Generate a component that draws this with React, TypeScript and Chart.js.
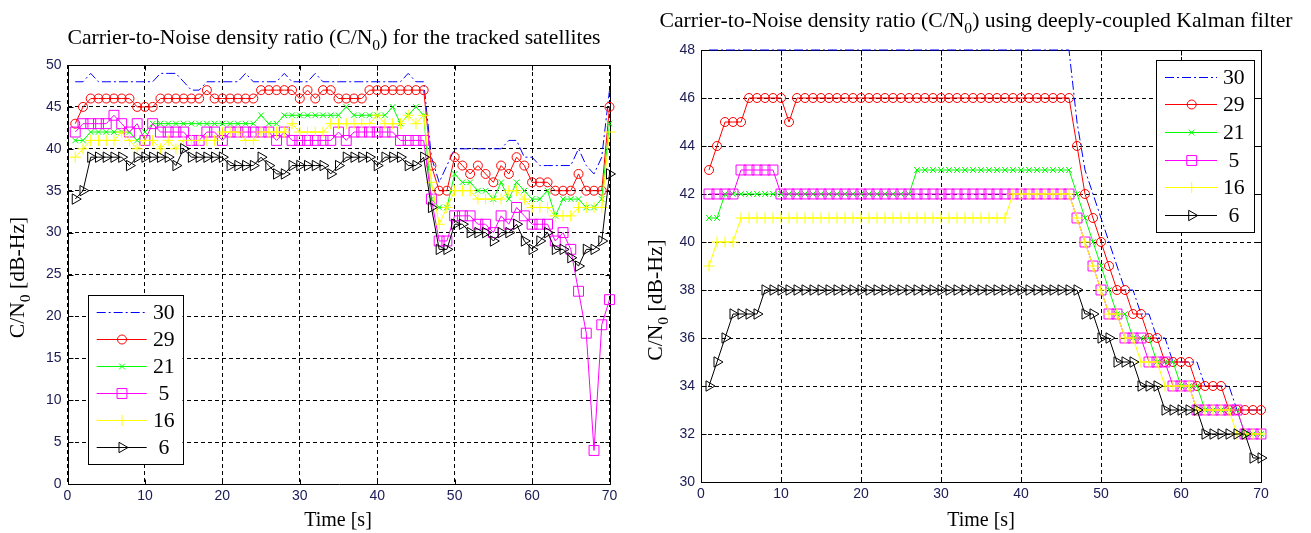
import React, { useEffect, useRef } from 'react';
import { Chart, registerables } from 'chart.js';

Chart.register(...registerables);

// ---------------- data ----------------
const time = [1, 2, 3, 4, 5, 6, 7, 8, 9, 10, 11, 12, 13, 14, 15, 16, 17, 18, 19, 20,
  21, 22, 23, 24, 25, 26, 27, 28, 29, 30, 31, 32, 33, 34, 35, 36, 37, 38, 39, 40,
  41, 42, 43, 44, 45, 46, 47, 48, 49, 50, 51, 52, 53, 54, 55, 56, 57, 58, 59, 60,
  61, 62, 63, 64, 65, 66, 67, 68, 69, 70];

const satelliteLabels = ['30', '29', '21', ' 5', '16', ' 6'];

// left panel: tracked satellites
const leftSat30 = [48, 48, 49, 48, 48, 48, 48, 48, 48, 48, 48, 49, 49, 49, 48, 47, 47, 48, 48, 48,
  48, 48, 49, 48, 48, 48, 48, 49, 48, 48, 48, 49, 48, 48, 48, 48, 48, 48, 48, 48,
  48, 48, 48, 49, 48, 48, 39, 36, 38, 40, 40, 40, 40, 40, 40, 40, 41, 41, 39, 39,
  38, 38, 38, 38, 38, 40, 38, 37, 39, 47];
const leftSat29 = [43, 45, 46, 46, 46, 46, 46, 46, 45, 45, 45, 46, 46, 46, 46, 46, 46, 47, 46, 46,
  46, 46, 46, 46, 47, 47, 47, 47, 47, 46, 47, 46, 47, 47, 46, 46, 46, 46, 47, 47,
  47, 47, 47, 47, 47, 47, 38, 35, 35, 39, 38, 37, 38, 37, 36, 38, 37, 39, 38, 36,
  36, 36, 35, 35, 35, 37, 35, 35, 35, 45];
const leftSat21 = [41, 41, 42, 42, 42, 42, 42, 42, 41, 42, 43, 43, 43, 43, 43, 43, 43, 43, 43, 43,
  43, 43, 43, 43, 44, 43, 43, 44, 44, 44, 44, 44, 44, 44, 44, 45, 44, 44, 44, 44,
  44, 45, 43, 44, 45, 44, 34, 33, 33, 37, 36, 36, 35, 35, 34, 36, 34, 36, 35, 34,
  34, 35, 32, 34, 34, 34, 33, 33, 34, 43];
const leftSat5 = [42, 43, 43, 43, 43, 44, 43, 42, 43, 41, 43, 42, 42, 42, 42, 41, 41, 42, 42, 41,
  42, 42, 42, 42, 42, 42, 41, 42, 41, 41, 41, 41, 41, 41, 42, 41, 42, 42, 42, 42,
  42, 42, 41, 41, 41, 41, 34, 29, 29, 32, 32, 32, 31, 31, 30, 32, 31, 33, 32, 31,
  31, 31, 29, 30, 28, 23, 18, 4, 19, 22];
const leftSat16 = [39, 40, 41, 41, 41, 41, 42, 41, 40, 41, 41, 40, 41, 40, 41, 41, 41, 41, 41, 42,
  42, 42, 41, 41, 42, 42, 42, 42, 43, 42, 42, 42, 42, 43, 43, 43, 43, 43, 43, 44,
  43, 43, 43, 44, 43, 44, 36, 31, 33, 35, 35, 35, 34, 34, 34, 34, 35, 35, 34, 33,
  33, 33, 32, 32, 32, 33, 33, 33, 33, 42];
const leftSat6 = [34, 35, 39, 39, 39, 39, 39, 38, 39, 39, 39, 39, 39, 38, 40, 39, 39, 39, 39, 39,
  38, 38, 38, 38, 39, 38, 37, 37, 38, 38, 38, 38, 38, 37, 38, 39, 39, 39, 39, 38,
  39, 39, 39, 38, 38, 39, 33, 28, 28, 31, 31, 30, 30, 30, 29, 30, 30, 31, 29, 28,
  29, 30, 28, 28, 27, 26, 28, 28, 29, 37];

// right panel: deeply-coupled Kalman filter
const rightSat30 = [48, 48, 48, 48, 48, 48, 48, 48, 48, 48, 48, 48, 48, 48, 48, 48, 48, 48, 48, 48,
  48, 48, 48, 48, 48, 48, 48, 48, 48, 48, 48, 48, 48, 48, 48, 48, 48, 48, 48, 48,
  48, 48, 48, 48, 48, 48, 45, 43, 42, 41, 40, 39, 38, 38, 37, 37, 36, 36, 35, 35,
  35, 35, 34, 34, 34, 34, 33, 33, 33, 33];
const rightSat29 = [43, 44, 45, 45, 45, 46, 46, 46, 46, 46, 45, 46, 46, 46, 46, 46, 46, 46, 46, 46,
  46, 46, 46, 46, 46, 46, 46, 46, 46, 46, 46, 46, 46, 46, 46, 46, 46, 46, 46, 46,
  46, 46, 46, 46, 46, 46, 44, 42, 41, 40, 39, 38, 38, 37, 37, 36, 36, 35, 35, 35,
  35, 34, 34, 34, 34, 33, 33, 33, 33, 33];
const rightSat21 = [41, 41, 42, 42, 42, 42, 42, 42, 42, 42, 42, 42, 42, 42, 42, 42, 42, 42, 42, 42,
  42, 42, 42, 42, 42, 42, 43, 43, 43, 43, 43, 43, 43, 43, 43, 43, 43, 43, 43, 43,
  43, 43, 43, 43, 43, 43, 42, 41, 40, 39, 38, 37, 37, 36, 36, 36, 35, 35, 35, 34,
  34, 34, 33, 33, 33, 33, 33, 32, 32, 32];
const rightSat5 = [42, 42, 42, 42, 43, 43, 43, 43, 43, 42, 42, 42, 42, 42, 42, 42, 42, 42, 42, 42,
  42, 42, 42, 42, 42, 42, 42, 42, 42, 42, 42, 42, 42, 42, 42, 42, 42, 42, 42, 42,
  42, 42, 42, 42, 42, 42, 41, 40, 39, 38, 37, 37, 36, 36, 36, 35, 35, 35, 34, 34,
  34, 33, 33, 33, 33, 33, 33, 32, 32, 32];
const rightSat16 = [39, 40, 40, 40, 41, 41, 41, 41, 41, 41, 41, 41, 41, 41, 41, 41, 41, 41, 41, 41,
  41, 41, 41, 41, 41, 41, 41, 41, 41, 41, 41, 41, 41, 41, 41, 41, 41, 41, 42, 42,
  42, 42, 42, 42, 42, 42, 41, 40, 39, 38, 37, 37, 36, 36, 35, 35, 35, 34, 34, 34,
  34, 33, 33, 33, 33, 33, 32, 32, 32, 32];
const rightSat6 = [34, 35, 36, 37, 37, 37, 37, 38, 38, 38, 38, 38, 38, 38, 38, 38, 38, 38, 38, 38,
  38, 38, 38, 38, 38, 38, 38, 38, 38, 38, 38, 38, 38, 38, 38, 38, 38, 38, 38, 38,
  38, 38, 38, 38, 38, 38, 38, 37, 37, 36, 36, 35, 35, 35, 34, 34, 34, 33, 33, 33,
  33, 33, 32, 32, 32, 32, 32, 32, 31, 31];

const leftTitle = [
  { t: 'Carrier-to-Noise density ratio (C/N' }, { t: '0', sub: true }, { t: ') for the tracked satellites' },
];
const rightTitle = [
  { t: 'Carrier-to-Noise density ratio (C/N' }, { t: '0', sub: true }, { t: ') using deeply-coupled Kalman filter' },
];
const yAxisLabel = [{ t: 'C/N' }, { t: '0', sub: true }, { t: ' [dB-Hz]' }];
const xAxisLabel = [{ t: 'Time [s]' }];

// ---------------- styles ----------------
const SERIF = '"Liberation Serif", "Times New Roman", serif';
const SANS = '"Liberation Sans", Arial, sans-serif';
const TICK_COLOR = '#1b1b55';

const seriesStyles = [
  { color: '#0000ff', dash: [9, 3, 2, 3], point: 'circle', radius: 0, rotation: 0 },
  { color: '#ff0000', dash: [], point: 'circle', radius: 4.5, rotation: 0 },
  { color: '#00ff00', dash: [], point: 'crossRot', radius: 4, rotation: 0 },
  { color: '#ff00ff', dash: [], point: 'rect', radius: 7, rotation: 0 },
  { color: '#ffff00', dash: [], point: 'cross', radius: 5.5, rotation: 0 },
  { color: '#000000', dash: [], point: 'triangle', radius: 6, rotation: 90 },
];

type Part = { t: string; sub?: boolean };

function drawRich(ctx: CanvasRenderingContext2D, parts: Part[], cx: number, baseline: number, size: number, family: string) {
  const subSize = size * 0.72;
  let total = 0;
  const widths = parts.map((p) => {
    ctx.font = `${p.sub ? subSize : size}px ${family}`;
    const w = ctx.measureText(p.t).width;
    total += w;
    return w;
  });
  let x = cx - total / 2;
  ctx.textAlign = 'left';
  ctx.textBaseline = 'alphabetic';
  parts.forEach((p, i) => {
    ctx.font = `${p.sub ? subSize : size}px ${family}`;
    ctx.fillText(p.t, x, baseline + (p.sub ? size * 0.28 : 0));
    x += widths[i];
  });
}

function drawMarker(ctx: CanvasRenderingContext2D, style: any, x: number, y: number) {
  const r = style.radius;
  if (!r) return;
  ctx.beginPath();
  if (style.point === 'circle') {
    ctx.arc(x, y, r, 0, Math.PI * 2);
  } else if (style.point === 'crossRot') {
    const d = r * Math.SQRT1_2;
    ctx.moveTo(x - d, y - d); ctx.lineTo(x + d, y + d);
    ctx.moveTo(x - d, y + d); ctx.lineTo(x + d, y - d);
  } else if (style.point === 'rect') {
    const s = r * Math.SQRT1_2;
    ctx.rect(x - s, y - s, 2 * s, 2 * s);
  } else if (style.point === 'cross') {
    ctx.moveTo(x - r, y); ctx.lineTo(x + r, y);
    ctx.moveTo(x, y - r); ctx.lineTo(x, y + r);
  } else if (style.point === 'triangle') {
    ctx.moveTo(x + r, y);
    ctx.lineTo(x - 0.5 * r, y + 0.866 * r);
    ctx.lineTo(x - 0.5 * r, y - 0.866 * r);
    ctx.closePath();
  }
  ctx.stroke();
}

const decorPlugin = {
  id: 'decor',
  beforeDatasetsDraw(chart: any) {
    const ctx: CanvasRenderingContext2D = chart.ctx;
    const { left, right, top, bottom } = chart.chartArea;
    ctx.save();
    ctx.setLineDash([]);
    ctx.strokeStyle = '#000';
    ctx.lineWidth = 1;
    const L = Math.round(left) + 0.5, R = Math.round(right) + 0.5;
    const T = Math.round(top) + 0.5, B = Math.round(bottom) + 0.5;
    ctx.beginPath();
    ctx.rect(L, T, R - L, B - T);
    const xs = chart.scales.x, ys = chart.scales.y;
    const tl = 5;
    xs.ticks.forEach((t: any) => {
      const px = Math.round(xs.getPixelForValue(t.value)) + 0.5;
      ctx.moveTo(px, B); ctx.lineTo(px, B - tl);
      ctx.moveTo(px, T); ctx.lineTo(px, T + tl);
    });
    ys.ticks.forEach((t: any) => {
      const py = Math.round(ys.getPixelForValue(t.value)) + 0.5;
      ctx.moveTo(L, py); ctx.lineTo(L + tl, py);
      ctx.moveTo(R, py); ctx.lineTo(R - tl, py);
    });
    ctx.stroke();
    ctx.restore();
  },
  afterDraw(chart: any, _args: any, opts: any) {
    const ctx: CanvasRenderingContext2D = chart.ctx;
    ctx.save();
    ctx.setLineDash([]);
    ctx.lineWidth = 1;
    ctx.fillStyle = '#000';
    drawRich(ctx, opts.title.parts, opts.title.x, opts.title.y, opts.fontSize, SERIF);
    drawRich(ctx, xAxisLabel, opts.xlabel.x, opts.xlabel.y, opts.xlabelSize, SERIF);
    ctx.save();
    ctx.translate(opts.ylabel.x, opts.ylabel.y);
    ctx.rotate(-Math.PI / 2);
    drawRich(ctx, yAxisLabel, 0, 0, opts.fontSize, SERIF);
    ctx.restore();

    // legend
    const lg = opts.legend;
    ctx.fillStyle = '#fff';
    ctx.fillRect(lg.x, lg.y, lg.w, lg.h);
    ctx.strokeStyle = '#000';
    ctx.strokeRect(Math.round(lg.x) + 0.5, Math.round(lg.y) + 0.5, Math.round(lg.w), Math.round(lg.h));
    chart.data.datasets.forEach((ds: any, i: number) => {
      const st = seriesStyles[i];
      const ry = Math.round(lg.row0 + i * lg.rowH) + 0.5;
      ctx.strokeStyle = st.color;
      ctx.lineWidth = 1;
      ctx.setLineDash(st.dash);
      ctx.beginPath();
      ctx.moveTo(lg.l1, ry); ctx.lineTo(lg.l2, ry);
      ctx.stroke();
      ctx.setLineDash([]);
      drawMarker(ctx, st, lg.mx, ry);
      ctx.fillStyle = '#000';
      ctx.font = `${opts.fontSize}px ${SERIF}`;
      ctx.textAlign = 'left';
      ctx.textBaseline = 'middle';
      ctx.fillText(ds.label, lg.tx, ry + 1);
    });
    ctx.restore();
  },
};

function buildConfig(series: number[][], p: any): any {
  const datasets = series.map((vals, i) => {
    const st = seriesStyles[i];
    return {
      label: satelliteLabels[i],
      data: time.map((t, k) => ({ x: t, y: vals[k] })),
      borderColor: st.color,
      backgroundColor: st.color,
      borderWidth: 1,
      borderDash: st.dash,
      pointStyle: st.point,
      pointRadius: st.radius,
      pointRotation: st.rotation,
      pointBorderColor: st.color,
      pointBackgroundColor: 'rgba(0,0,0,0)',
      pointBorderWidth: 1,
      tension: 0,
      clip: false,
      order: 6 - i,
    };
  });
  return {
    type: 'line',
    data: { datasets },
    plugins: [decorPlugin],
    options: {
      responsive: false,
      animation: false,
      events: [],
      layout: { padding: p.padding },
      scales: {
        x: {
          type: 'linear',
          min: 0,
          max: 70,
          afterFit: (s: any) => { s.height = p.xHeight; },
          ticks: { stepSize: 10, padding: 4, maxRotation: 0, color: TICK_COLOR, font: { family: SANS, size: 14 } },
          grid: { color: '#000', lineWidth: 1, drawTicks: false },
          border: { display: false, dash: [4, 3] },
        },
        y: {
          type: 'linear',
          min: p.yMin,
          max: p.yMax,
          afterFit: (s: any) => { s.width = p.yWidth; },
          ticks: { stepSize: p.yStep, padding: 6, color: TICK_COLOR, font: { family: SANS, size: 14 } },
          grid: { color: '#000', lineWidth: 1, drawTicks: false },
          border: { display: false, dash: [4, 3] },
        },
      },
      plugins: {
        legend: { display: false },
        title: { display: false },
        tooltip: { enabled: false },
        decor: p.decor,
      },
    },
  };
}

const W1 = 625;
const W2 = 686;
const H = 533;

function Panel({ series, params, left, width }: any) {
  const ref = useRef<HTMLCanvasElement>(null);
  useEffect(() => {
    if (!ref.current) return;
    const chart = new Chart(ref.current, buildConfig(series, params));
    return () => chart.destroy();
  }, []);
  return (
    <canvas ref={ref} width={width} height={H}
      style={{ position: 'absolute', left, top: 0, width, height: H }} />
  );
}

const leftParams = {
  padding: { left: 0, right: W1 - 609.5, top: 65, bottom: 0 },
  xHeight: 49, yWidth: 67.5, yMin: 0, yMax: 50, yStep: 5,
  decor: {
    fontSize: 21.7, xlabelSize: 20,
    title: { parts: leftTitle, x: 334, y: 44 },
    xlabel: { x: 338, y: 526 },
    ylabel: { x: 24, y: 277.5 },
    legend: { x: 87.5, y: 295, w: 95, h: 169, row0: 312.3, rowH: 26.9, l1: 96.7, l2: 146.7, mx: 122, tx: 153 },
  },
};

const rightParams = {
  padding: { left: 0, right: W2 - 636, top: 50, bottom: 0 },
  xHeight: 51, yWidth: 76, yMin: 30, yMax: 48, yStep: 2,
  decor: {
    fontSize: 21.7, xlabelSize: 20,
    title: { parts: rightTitle, x: 351, y: 27 },
    xlabel: { x: 356, y: 526 },
    ylabel: { x: 37, y: 300 },
    legend: { x: 530.7, y: 60, w: 97.6, h: 172, row0: 76.7, rowH: 27.6, l1: 540, l2: 592, mx: 566.7, tx: 598 },
  },
};

export default function App() {
  return (
    <div style={{ position: 'fixed', left: 0, top: 0, width: 1311, height: H, background: '#fff', overflow: 'hidden' }}>
      <Panel left={0} width={W1} params={leftParams}
        series={[leftSat30, leftSat29, leftSat21, leftSat5, leftSat16, leftSat6]} />
      <Panel left={W1} width={W2} params={rightParams}
        series={[rightSat30, rightSat29, rightSat21, rightSat5, rightSat16, rightSat6]} />
    </div>
  );
}
